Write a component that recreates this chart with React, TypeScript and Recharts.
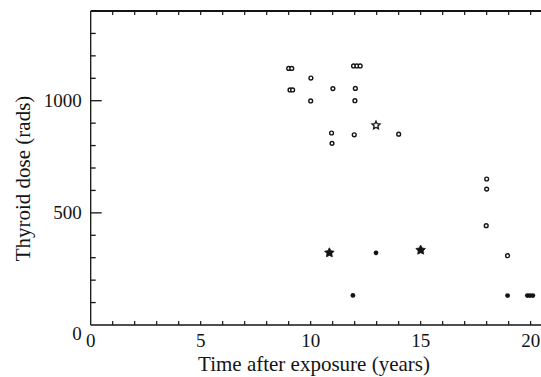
import React from 'react';
import { ScatterChart, Scatter, XAxis, YAxis } from 'recharts';

// Open circles (time after exposure in years, thyroid dose in rads)
const openCircles = [
  { t: 9.0, dose: 1144 },
  { t: 9.14, dose: 1144 },
  { t: 9.06, dose: 1048 },
  { t: 9.18, dose: 1048 },
  { t: 10.01, dose: 1101 },
  { t: 10.0, dose: 999 },
  { t: 11.01, dose: 1054 },
  { t: 10.95, dose: 856 },
  { t: 10.97, dose: 810 },
  { t: 11.95, dose: 1155 },
  { t: 12.1, dose: 1155 },
  { t: 12.25, dose: 1155 },
  { t: 12.03, dose: 1055 },
  { t: 12.01, dose: 1000 },
  { t: 11.98, dose: 848 },
  { t: 14.0, dose: 851 },
  { t: 18.0, dose: 651 },
  { t: 18.0, dose: 606 },
  { t: 17.98, dose: 443 },
  { t: 18.95, dose: 309 },
];

const filledCircles = [
  { t: 12.97, dose: 322 },
  { t: 11.92, dose: 132 },
  { t: 18.95, dose: 131 },
  { t: 19.85, dose: 131 },
  { t: 19.97, dose: 131 },
  { t: 20.1, dose: 131 },
];

const openStars = [{ t: 12.97, dose: 890 }];

const filledStars = [
  { t: 10.85, dose: 322 },
  { t: 15.0, dose: 334 },
];

const xTicks = [0, 1, 2, 3, 4, 5, 6, 7, 8, 9, 10, 11, 12, 13, 14, 15, 16, 17, 18, 19, 20];
const xTickLabels = [0, 5, 10, 15, 20];
const yTicks = [0, 100, 200, 300, 400, 500, 600, 700, 800, 900, 1000, 1100, 1200, 1300];
const yTickLabels = [0, 500, 1000];
const rightTicks = [500, 1000];

const INK = '#141414';
const FONT = "'Liberation Serif', 'Times New Roman', Times, 'DejaVu Serif', serif";
const textStyle = { fontFamily: FONT };

const starPath = (cx: number, cy: number, R: number, r: number) => {
  let d = '';
  for (let i = 0; i < 10; i++) {
    const rad = i % 2 === 0 ? R : r;
    const a = -Math.PI / 2 + (i * Math.PI) / 5;
    const px = cx + rad * Math.cos(a);
    const py = cy + rad * Math.sin(a);
    d += (i === 0 ? 'M' : 'L') + px.toFixed(2) + ',' + py.toFixed(2);
  }
  return d + 'Z';
};

const OpenCircle = (p: any) => (
  <circle cx={p.cx} cy={p.cy} r={1.9} fill="#fff" stroke={INK} strokeWidth={1.4} />
);
const FilledCircle = (p: any) => <circle cx={p.cx} cy={p.cy} r={2.4} fill={INK} />;
const OpenStar = (p: any) => (
  <path d={starPath(p.cx, p.cy, 4.2, 2.0)} fill="#fff" stroke={INK} strokeWidth={1.3} />
);
const FilledStar = (p: any) => (
  <path d={starPath(p.cx, p.cy, 5.0, 2.6)} fill={INK} stroke={INK} strokeWidth={0.8} />
);

const LeftTick = (props: any) => {
  const { x, y, payload } = props;
  const v = payload.value;
  const major = yTickLabels.includes(v);
  return (
    <g>
      {v !== 0 && (
        <line x1={x} x2={x + (major ? 11 : 5)} y1={y} y2={y} stroke={INK} strokeWidth={1.3} />
      )}
      {major && (
        <text
          x={x - 9}
          y={y + (v === 0 ? 8 : 0)}
          textAnchor="end"
          dominantBaseline="central"
          style={textStyle}
          fontSize={19}
          fill={INK}
        >
          {v}
        </text>
      )}
    </g>
  );
};

const RightTick = (props: any) => {
  const { x, y } = props;
  return <line x1={x} x2={x - 7} y1={y} y2={y} stroke={INK} strokeWidth={1.3} />;
};

const BottomTick = (props: any) => {
  const { x, y, payload } = props;
  const v = payload.value;
  const labelled = xTickLabels.includes(v);
  return (
    <g>
      {v !== 0 && <line x1={x} x2={x} y1={y} y2={y - 4} stroke={INK} strokeWidth={1.2} />}
      {labelled && (
        <text x={x} y={y + 22} textAnchor="middle" style={textStyle} fontSize={19} fill={INK}>
          {v}
        </text>
      )}
    </g>
  );
};

const TopTick = (props: any) => {
  const { x, y, payload } = props;
  if (payload.value === 0) return <g />;
  return <line x1={x} x2={x} y1={y} y2={y + 4} stroke={INK} strokeWidth={1.2} />;
};

const XTitle = () => (
  <text x={314} y={371} textAnchor="middle" style={textStyle} fontSize={21} fill={INK}>
    Time after exposure (years)
  </text>
);

const YTitle = () => (
  <text
    x={0}
    y={0}
    transform="translate(23,178.5) rotate(-90)"
    textAnchor="middle"
    dominantBaseline="central"
    style={textStyle}
    fontSize={21}
    fill={INK}
  >
    Thyroid dose (rads)
  </text>
);

export default function App() {
  return (
    <div style={{ position: 'absolute', left: 0, top: 0, background: '#fff', fontFamily: FONT }}>
      <ScatterChart width={541} height={377} margin={{ top: 0, right: 0, bottom: 0, left: 0 }}>
        <XAxis
          xAxisId={0}
          dataKey="t"
          type="number"
          domain={[0, 20.47]}
          ticks={xTicks}
          height={52}
          tickSize={0}
          tickMargin={0}
          tickLine={false}
          tick={<BottomTick />}
          axisLine={{ stroke: INK, strokeWidth: 1.3 }}
          allowDataOverflow
          interval={0}
          label={<XTitle />}
        />
        <XAxis
          xAxisId="top"
          orientation="top"
          dataKey="t"
          type="number"
          domain={[0, 20.47]}
          ticks={xTicks}
          height={11}
          tickSize={0}
          tickMargin={0}
          tickLine={false}
          tick={<TopTick />}
          axisLine={{ stroke: INK, strokeWidth: 2 }}
          allowDataOverflow
          interval={0}
        />
        <YAxis
          yAxisId={0}
          dataKey="dose"
          type="number"
          domain={[0, 1400]}
          ticks={yTicks}
          width={90.7}
          tickSize={0}
          tickMargin={0}
          tickLine={false}
          tick={<LeftTick />}
          axisLine={{ stroke: INK, strokeWidth: 1.3 }}
          allowDataOverflow
          interval={0}
          label={<YTitle />}
        />
        <YAxis
          yAxisId="right"
          orientation="right"
          dataKey="dose"
          type="number"
          domain={[0, 1400]}
          ticks={rightTicks}
          width={0}
          tickSize={0}
          tickMargin={0}
          tickLine={false}
          tick={<RightTick />}
          axisLine={false}
          allowDataOverflow
          interval={0}
        />
        <Scatter data={openCircles} shape={<OpenCircle />} isAnimationActive={false} />
        <Scatter data={filledCircles} shape={<FilledCircle />} isAnimationActive={false} />
        <Scatter data={openStars} shape={<OpenStar />} isAnimationActive={false} />
        <Scatter data={filledStars} shape={<FilledStar />} isAnimationActive={false} />
      </ScatterChart>
    </div>
  );
}
